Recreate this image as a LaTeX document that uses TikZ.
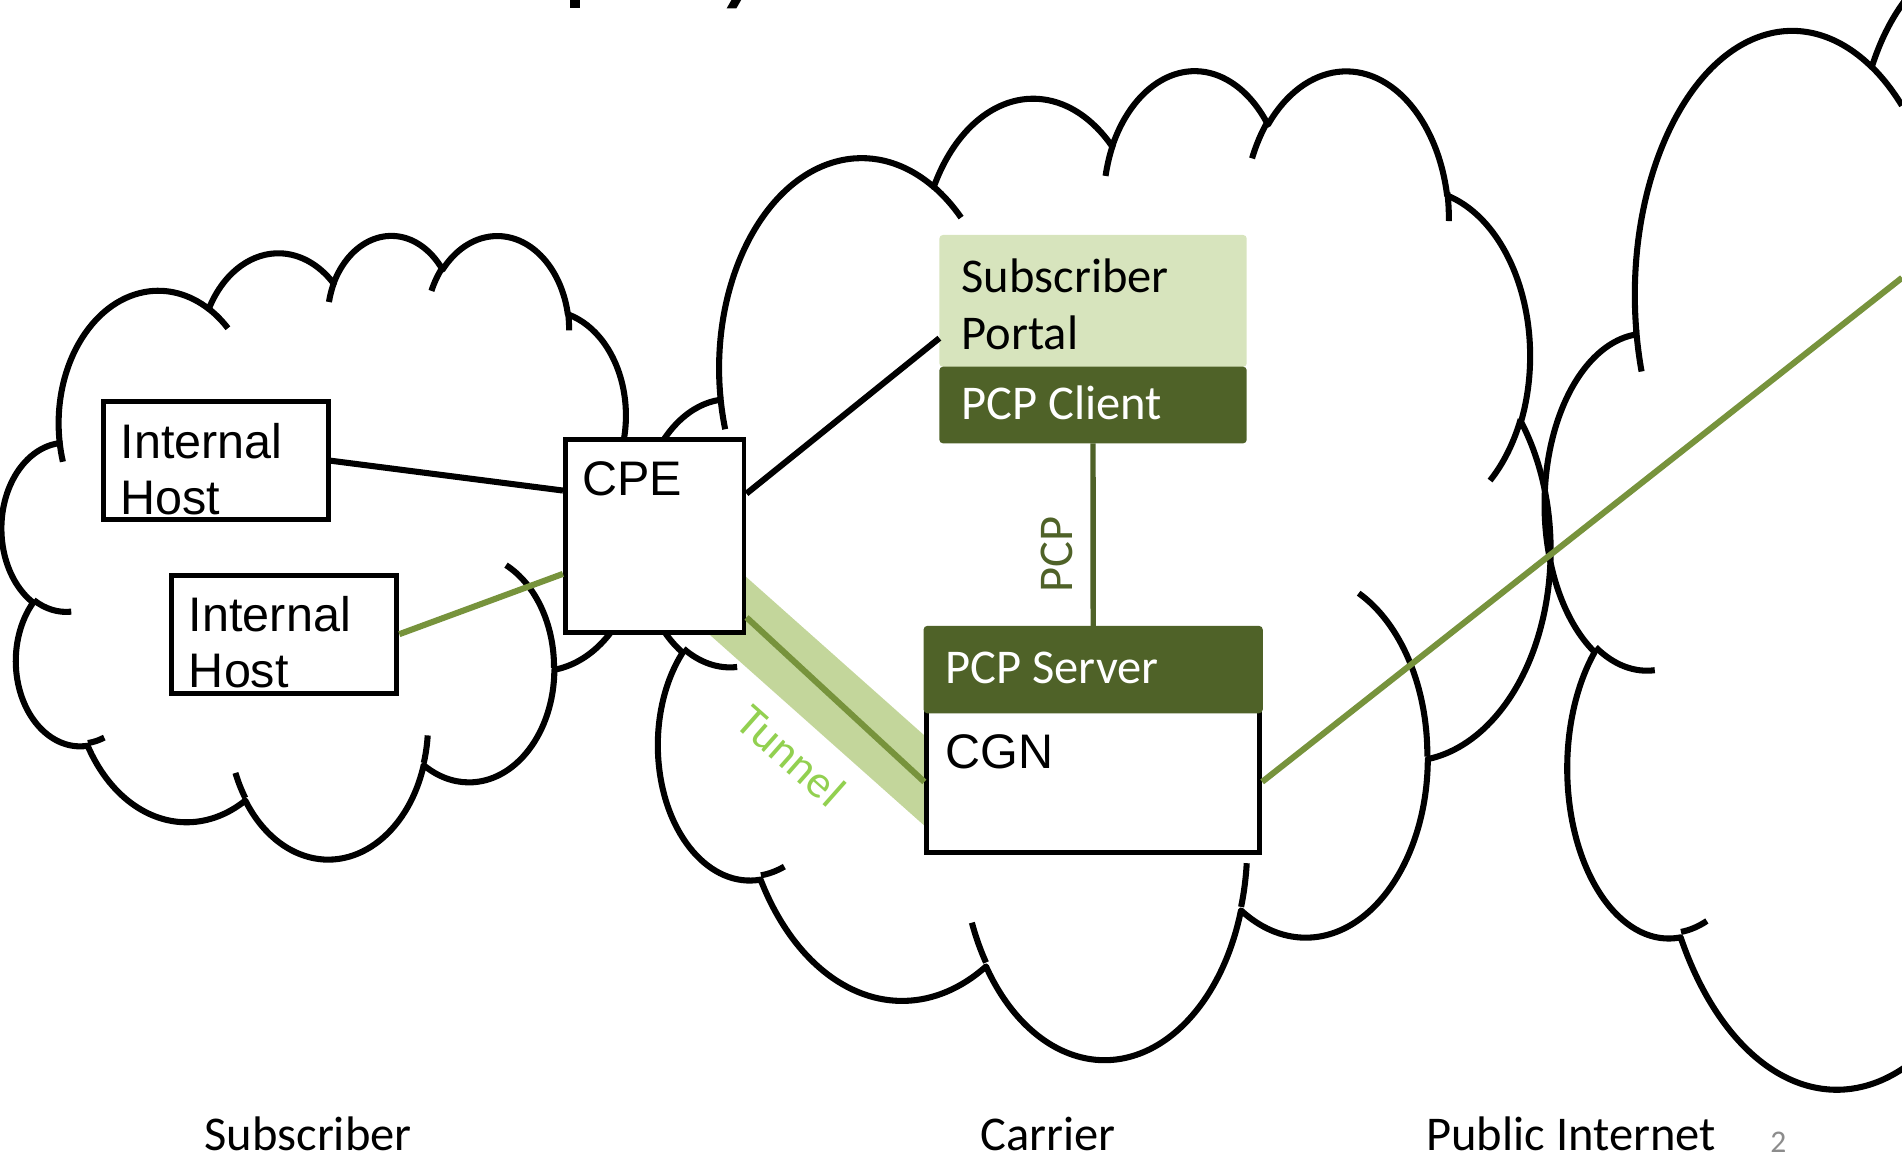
\documentclass[tikz,border=0pt]{standalone}
\usepackage{fontspec}
\setmainfont{Liberation Sans}
\newfontfamily\calfont{Carlito}
\usetikzlibrary{calc}
\definecolor{olivedark}{HTML}{4F6228}
\definecolor{olivelight}{HTML}{D7E4BD}
\definecolor{olivemid}{HTML}{77933C}
\definecolor{oliveband}{HTML}{C3D69B}
\definecolor{tunneltext}{HTML}{92D050}
\definecolor{pagegray}{HTML}{8C8C8C}
\pgfdeclarelayer{bg}
\pgfsetlayers{bg,main}

% OOXML-style arcTo: radii, visual start angle, visual sweep (degrees)
\newcommand\ooarc[4]{%
  \pgfmathsetmacro\ooA{atan2((#1)*sin(#3),(#2)*cos(#3))-(#3)}%
  \pgfmathsetmacro\ooA{\ooA-360*round(\ooA/360)}%
  \pgfmathsetmacro\ooE{(#3)+(#4)}%
  \pgfmathsetmacro\ooB{atan2((#1)*sin(\ooE),(#2)*cos(\ooE))-\ooE}%
  \pgfmathsetmacro\ooB{\ooB-360*round(\ooB/360)}%
  \pgfmathsetmacro\ooS{(#3)+\ooA}%
  \pgfmathsetmacro\ooD{(#4)+\ooB-\ooA}%
  \xdef\oopath{\oopath arc[x radius=#1,y radius=#2,start angle=\ooS,delta angle=\ooD]}%
}
\newcommand\oomove[2]{\xdef\oopath{\oopath (#1,#2)}}

\gdef\oopath{}
\oomove{39.00}{143.70}
\ooarc{67.53}{91.90}{-190.4875}{123.7805}
\ooarc{53.33}{72.67}{-144.1024}{89.9452}
\ooarc{43.65}{59.45}{-145.8079}{99.7230}
\ooarc{48.57}{65.95}{-130.9861}{117.2417}
\ooarc{53.33}{72.73}{-78.7089}{109.0269}
\ooarc{67.75}{92.20}{-46.2673}{130.2690}
\ooarc{57.85}{78.67}{0.6250}{114.0333}
\ooarc{67.52}{92.15}{22.4516}{115.1726}
\ooarc{77.20}{105.43}{66.2426}{75.7110}
\ooarc{43.60}{59.18}{-274.9421}{146.7356}
\ooarc{43.45}{59.45}{-246.8285}{152.5189}
\global\let\cloudouter\oopath

\gdef\oopath{}
\oomove{46.93}{261.77}\ooarc{43.45}{59.45}{86.7420}{26.4295}
\oomove{69.28}{348.99}\ooarc{43.60}{59.18}{73.6105}{11.4475}
\oomove{164.78}{390.90}\ooarc{67.52}{92.15}{137.6242}{14.0811}
\oomove{288.27}{347.51}\ooarc{67.52}{92.15}{6.4533}{15.9984}
\oomove{341.29}{229.54}\ooarc{57.85}{78.67}{-70.2924}{70.9174}
\oomove{417.98}{153.54}\ooarc{53.33}{72.73}{30.3180}{27.7515}
\oomove{383.24}{54.26}\ooarc{48.57}{65.95}{-13.7443}{14.8589}
\oomove{290.78}{39.52}\ooarc{48.57}{65.95}{-149.1815}{18.1954}
\oomove{221.41}{47.20}\ooarc{43.65}{59.45}{-163.4943}{17.6864}
\oomove{140.00}{51.92}\ooarc{67.53}{91.90}{-66.7070}{12.3194}
\oomove{41.27}{157.89}\ooarc{67.53}{91.90}{157.6544}{11.8582}
\global\let\cloudinner\oopath

\newcommand\drawcloud[4]{%
  \pgfmathsetmacro\cux{#3/864}%
  \pgfmathsetmacro\cuy{#4/864}%
  \begin{scope}[shift={(#1,#2)},x=\cux pt,y=-\cuy pt]
    \draw[cloudline] \cloudouter -- cycle;
    \draw[cloudline] \cloudinner;
  \end{scope}}

\begin{document}
\begin{tikzpicture}[x=0.5pt,y=-0.5pt,
  cloudline/.style={line width=2.5pt,draw=black,line join=round},
  whitebox/.style={draw=black,line width=2pt,fill=white,inner sep=0pt},
  lightbox/.style={fill=olivelight,rounded corners=1.5pt,inner sep=0pt,outer sep=0pt},
  darkbox/.style={fill=olivedark,rounded corners=1.5pt,inner sep=0pt,outer sep=0pt},
  blackwire/.style={draw=black,line width=2.5pt},
  greenwire/.style={draw=olivemid,line width=2.5pt},
  pcpwire/.style={draw=olivedark,line width=2.2pt},
  tunnelband/.style={draw=oliveband,line width=27.8pt},
  arial/.style={inner sep=0pt,anchor=base west,font=\fontsize{20pt}{24pt}\selectfont},
  cal/.style={inner sep=0pt,anchor=base west,font=\calfont\fontsize{20pt}{24pt}\selectfont}]
\useasboundingbox (0,0) rectangle (1568,957.1);

% boxes
\node[whitebox,minimum width=92.75pt,minimum height=48.6pt] (h1) at (177.85,379.8) {};
\node[whitebox,minimum width=92.8pt,minimum height=48.6pt] (h2) at (234.4,522.8) {};
\node[whitebox,minimum width=73.65pt,minimum height=79.55pt] (cpe) at (539.75,442.15) {};
\node[whitebox,minimum width=137.25pt,minimum height=58.55pt] (cgn) at (901.25,644.55) {};
\node[darkbox,minimum width=139.8pt,minimum height=36pt] (server) at (901.2,552) {};
\node[lightbox,minimum width=126.7pt,minimum height=54.4pt] (portal) at (901.1,248.1) {};
\node[darkbox,minimum width=126.7pt,minimum height=31.6pt] (client) at (901.1,333.9) {};
\coordinate (inet) at (1568,229);

\begin{pgfonlayer}{bg}
  \clip (0,0) rectangle (1568,957.1);
  \drawcloud{1.6}{192.8}{526}{514}
  \drawcloud{526}{56}{752}{815}
  \drawcloud{1274}{-68}{830}{1024}
  \draw[tunnelband] ($(cpe.south east)+(-24,-32)$) -- ($(cgn.west)+(26,22)$);
\end{pgfonlayer}

% connectors
\draw[blackwire] (h1.east) -- ($(cpe.west)+(0,-37.75)$);
\draw[greenwire] (h2.east) -- ($(cpe.west)+(0,30.95)$);
\draw[blackwire] ($(cpe.east)+(0,-35.25)$) -- ($(portal.west)+(0,30.7)$);
\draw[pcpwire] (client.south) -- (server.north);
\draw[greenwire] ($(cpe.east)+(0,66.85)$) -- (cgn.west);
\draw[greenwire] (cgn.east) -- (inet);

% texts
\node[arial] at (99,377.6) {Internal};
\node[arial] at (99,424.1) {Host};
\node[arial] at (155.4,520.6) {Internal};
\node[arial] at (155.4,567.1) {Host};
\node[arial] at (479.6,408.7) {CPE};
\node[arial] at (779.3,633.4) {CGN};
\node[cal] at (792.3,241.3) {Subscriber};
\node[cal] at (792.3,288.5) {Portal};
\node[cal,text=white] at (792.3,345.7) {PCP Client};
\node[cal,text=white] at (779,563.3) {PCP Server};
\node[cal,anchor=base,rotate=90,text=olivedark] at (884.5,457) {PCP};
\node[inner sep=0pt,rotate=-41.5,text=tunneltext,font=\calfont\fontsize{19pt}{23pt}\selectfont] at (652.5,623) {Tunnel};
\node[cal] at (168.2,948.5) {Subscriber};
\node[cal] at (808,948.5) {Carrier};
\node[cal] at (1175.5,948.5) {Public Internet};
\node[inner sep=0pt,anchor=base west,text=pagegray,font=\calfont\fontsize{13pt}{15pt}\selectfont] at (1459,950) {2};

% remnants of the cut-off title
\fill (470,0) rectangle (478.5,6.9);
\fill (603,0) -- (611,0) -- (607,7) -- (599,7) -- cycle;
\end{tikzpicture}
\end{document}
